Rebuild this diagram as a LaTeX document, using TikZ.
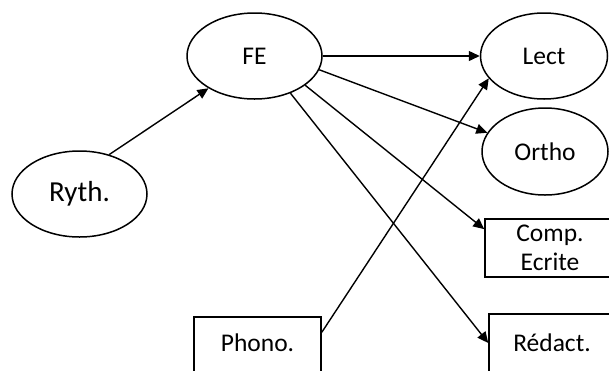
\documentclass[tikz,border=0pt]{standalone}
\usepackage{fontspec}
\setmainfont{Carlito}
\usetikzlibrary{arrows.meta,shapes.geometric}
\begin{document}
\begin{tikzpicture}[x=1pt,y=-1pt,
  lbl/.style={font=\fontsize{25.5}{29}\selectfont, text=black},
  oval/.style={ellipse, draw=black, line width=1.5pt, inner sep=0pt, lbl},
  box/.style={rectangle, draw=black, line width=1.5pt, inner sep=0pt, lbl, align=center},
  conn/.style={line width=1.4pt, draw=black, -{Triangle[length=11pt,width=10pt]}}]
\useasboundingbox (0,0) rectangle (609,370);
\clip (0,0) rectangle (609,370);
\node[oval, minimum width=135pt, minimum height=86pt] (fe) at (254.5,56) {FE};
\node[oval, minimum width=135pt, minimum height=86pt, font=\fontsize{29}{32}\selectfont] (ryth) at (79.5,194) {Ryth.};
\node[oval, minimum width=127pt, minimum height=86pt] (lect) at (544,56) {Lect};
\node[oval, minimum width=126pt, minimum height=87pt] (ortho) at (545,151.5) {Ortho};
\node[box, minimum width=130pt, minimum height=58pt] (comp) at (550,248) {Comp.\\Ecrite};
\node[box, minimum width=126pt, minimum height=58pt] (redact) at (552,343) {Rédact.};
\node[box, minimum width=127pt, minimum height=58pt] (phono) at (257.5,346) {};
\node[lbl] (phonotxt) at (257.5,343) {Phono.};
\draw[conn] (ryth.53.6) -- (fe.215);
\draw[conn] (fe) -- (lect);
\draw[conn] (fe.-12) -- (ortho.162.4);
\draw[conn] (fe.-30.7) -- (comp.164.5);
\draw[conn] (fe.-46) -- (redact.west);
\draw[conn] (phono.12.3) -- (lect.202.8);
\end{tikzpicture}
\end{document}
